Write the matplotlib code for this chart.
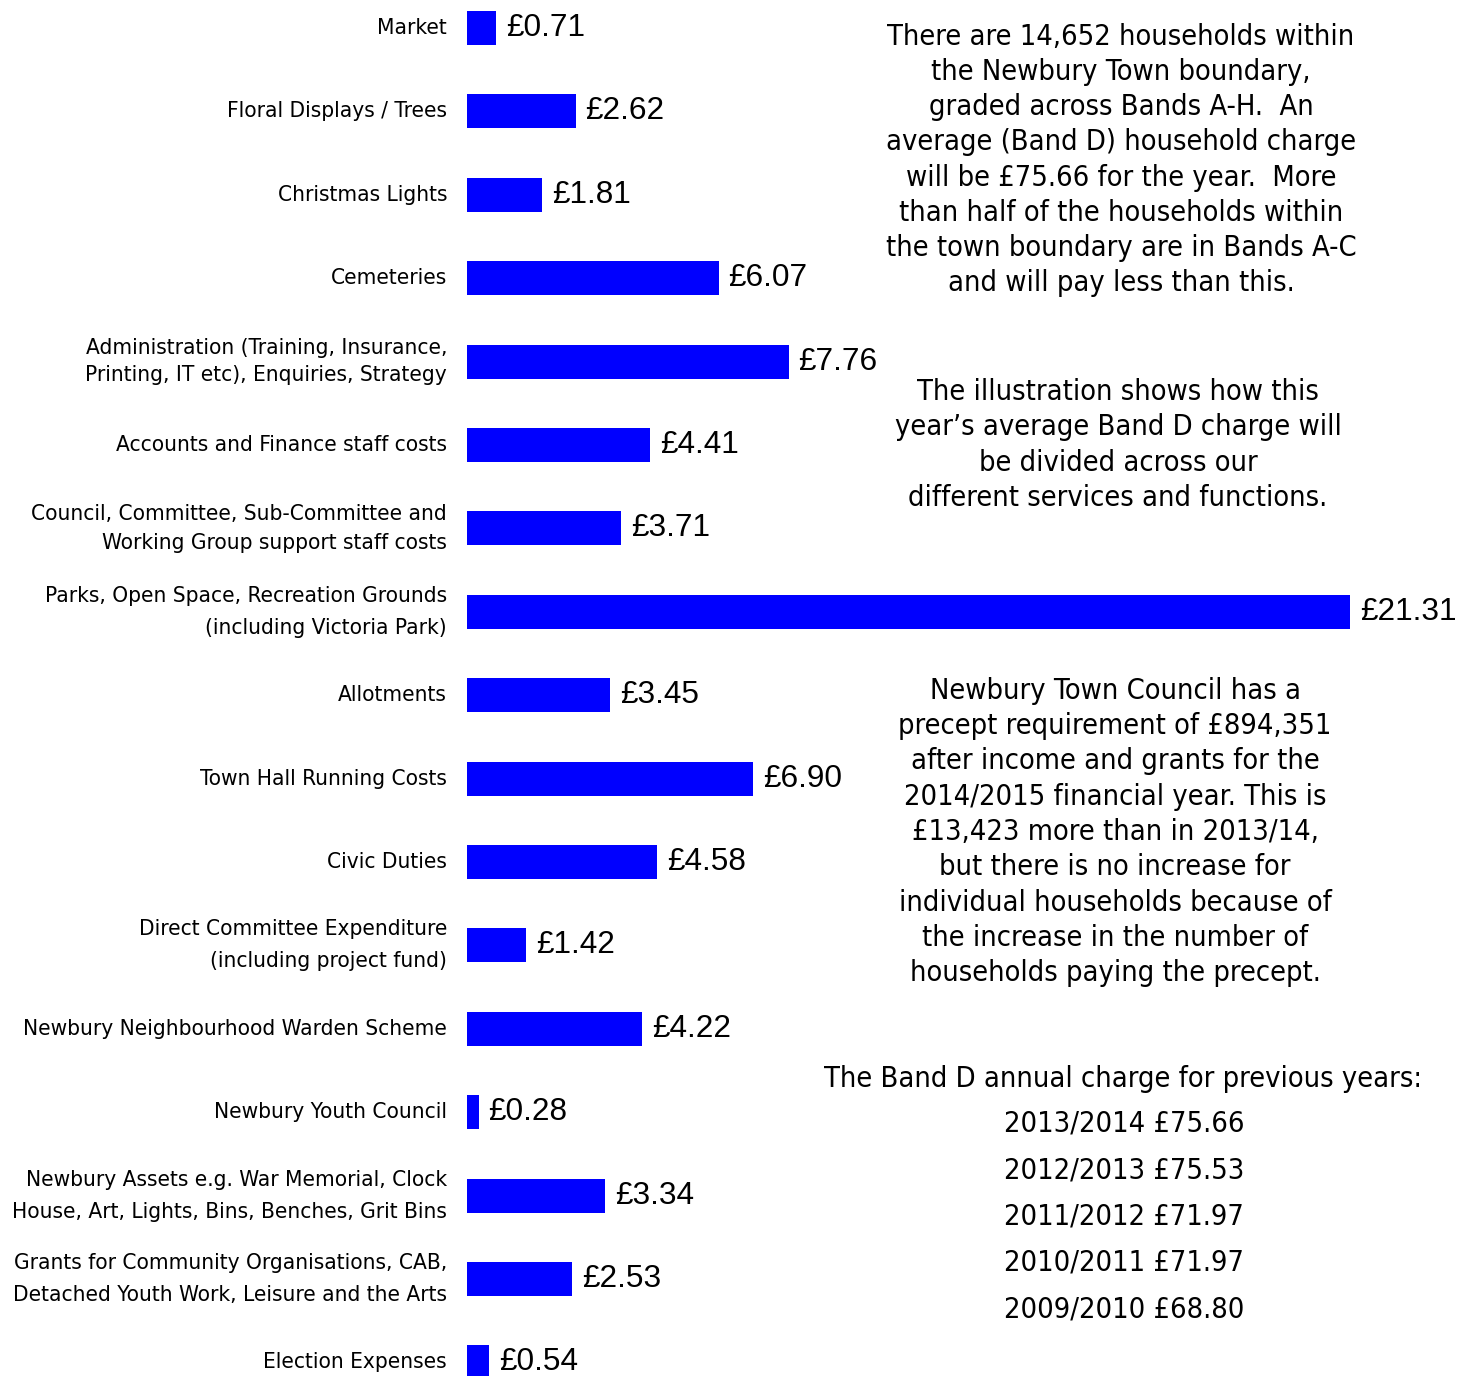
import matplotlib
matplotlib.use("Agg")
import matplotlib.pyplot as plt

# ---------------- data ----------------
categories = [
    "Market",
    "Floral Displays / Trees",
    "Christmas Lights",
    "Cemeteries",
    "Administration (Training, Insurance,\nPrinting, IT etc), Enquiries, Strategy",
    "Accounts and Finance staff costs",
    "Council, Committee, Sub-Committee and\nWorking Group support staff costs",
    "Parks, Open Space, Recreation Grounds\n(including Victoria Park)",
    "Allotments",
    "Town Hall Running Costs",
    "Civic Duties",
    "Direct Committee Expenditure\n(including project fund)",
    "Newbury Neighbourhood Warden Scheme",
    "Newbury Youth Council",
    "Newbury Assets e.g. War Memorial, Clock\nHouse, Art, Lights, Bins, Benches, Grit Bins",
    "Grants for Community Organisations, CAB,\nDetached Youth Work, Leisure and the Arts",
    "Election Expenses",
]
values = [0.71, 2.62, 1.81, 6.07, 7.76, 4.41, 3.71, 21.31, 3.45, 6.90,
          4.58, 1.42, 4.22, 0.28, 3.34, 2.53, 0.54]

text_households = ("There are 14,652 households within\n"
                   "the Newbury Town boundary,\n"
                   "graded across Bands A-H.  An\n"
                   "average (Band D) household charge\n"
                   "will be £75.66 for the year.  More\n"
                   "than half of the households within\n"
                   "the town boundary are in Bands A-C\n"
                   "and will pay less than this.")
text_illustration = ("The illustration shows how this\n"
                     "year\u2019s average Band D charge will\n"
                     "be divided across our\n"
                     "different services and functions.")
text_precept = ("Newbury Town Council has a\n"
                "precept requirement of £894,351\n"
                "after income and grants for the\n"
                "2014/2015 financial year. This is\n"
                "£13,423 more than in 2013/14,\n"
                "but there is no increase for\n"
                "individual households because of\n"
                "the increase in the number of\n"
                "households paying the precept.")
previous_title = "The Band D annual charge for previous years:"
previous_years = ["2013/2014", "2012/2013", "2011/2012", "2010/2011", "2009/2010"]
previous_charges = [75.66, 75.53, 71.97, 71.97, 68.80]

# ---------------- layout ----------------
W, H = 1458, 1376
DPI = 100
fig = plt.figure(figsize=(W / DPI, H / DPI), dpi=DPI)
ax = fig.add_axes([0, 0, 1, 1])

x0_px = 467.0           # pixel where value 0 sits
px_per_unit = (1350.0 - 467.0) / 21.31
y0_px = 28.0            # centre of first bar
step_px = 83.4          # spacing between bars

ax.set_xlim(-x0_px / px_per_unit, (W - x0_px) / px_per_unit)
ax.set_ylim((H - y0_px) / step_px, -y0_px / step_px)
ax.axis("off")

positions = list(range(len(values)))
ax.barh(positions, values, height=0.41, color="#0000FF", edgecolor="none")

label_font = dict(family="DejaVu Sans", fontstretch="condensed", fontsize=16.2)
for i, (cat, v) in enumerate(zip(categories, values)):
    if cat.startswith("Administration"):
        ls = 1.42
    elif cat.startswith("Council"):
        ls = 1.6
    else:
        ls = 1.75
    ax.text(-20 / px_per_unit, i, cat, ha="right", va="center",
            multialignment="right", linespacing=ls, color="black", **label_font)
    ax.text(v + 10 / px_per_unit, i, f"£{v:.2f}", ha="left", va="center",
            fontsize=22.7, family="Liberation Sans", color="black")

block_font = dict(family="DejaVu Sans", fontstretch="condensed", fontsize=20.8,
                  color="black", ha="center", va="center", multialignment="center")

def fx(px):
    return px / W

def fy(px):
    return 1 - px / H

fig.text(fx(1121), fy(160), text_households, linespacing=1.33, **block_font)
fig.text(fx(1118), fy(445), text_illustration, linespacing=1.33, **block_font)
fig.text(fx(1115), fy(832), text_precept, linespacing=1.33, **block_font)
fig.text(fx(1123), fy(1079), previous_title, **block_font)
for k, (yr, ch) in enumerate(zip(previous_years, previous_charges)):
    fig.text(fx(1124), fy(1124 + 46.3 * k), f"{yr} £{ch:.2f}", **block_font)

fig.savefig("out.png", dpi=DPI, facecolor="white")
